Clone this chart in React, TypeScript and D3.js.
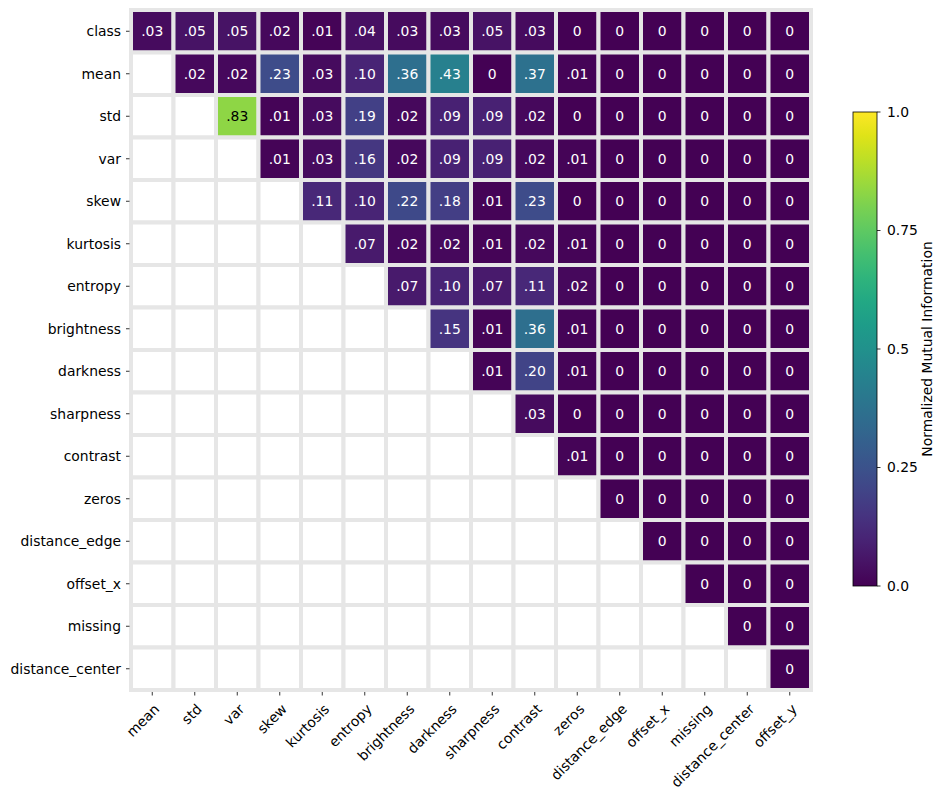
import * as d3 from "d3";

// pairwise normalized mutual information, upper triangle only
const rowLabels = [
  "class", "mean", "std", "var", "skew", "kurtosis", "entropy", "brightness",
  "darkness", "sharpness", "contrast", "zeros", "distance_edge", "offset_x",
  "missing", "distance_center",
];

const colLabels = [
  "mean", "std", "var", "skew", "kurtosis", "entropy", "brightness", "darkness",
  "sharpness", "contrast", "zeros", "distance_edge", "offset_x", "missing",
  "distance_center", "offset_y",
];

// row r holds the scores for columns r..15
const scores: number[][] = [
  [0.03, 0.05, 0.05, 0.02, 0.01, 0.04, 0.03, 0.03, 0.05, 0.03, 0, 0, 0, 0, 0, 0],
  [0.02, 0.02, 0.23, 0.03, 0.10, 0.36, 0.43, 0, 0.37, 0.01, 0, 0, 0, 0, 0],
  [0.83, 0.01, 0.03, 0.19, 0.02, 0.09, 0.09, 0.02, 0, 0, 0, 0, 0, 0],
  [0.01, 0.03, 0.16, 0.02, 0.09, 0.09, 0.02, 0.01, 0, 0, 0, 0, 0],
  [0.11, 0.10, 0.22, 0.18, 0.01, 0.23, 0, 0, 0, 0, 0, 0],
  [0.07, 0.02, 0.02, 0.01, 0.02, 0.01, 0, 0, 0, 0, 0],
  [0.07, 0.10, 0.07, 0.11, 0.02, 0, 0, 0, 0, 0],
  [0.15, 0.01, 0.36, 0.01, 0, 0, 0, 0, 0],
  [0.01, 0.20, 0.01, 0, 0, 0, 0, 0],
  [0.03, 0, 0, 0, 0, 0, 0],
  [0.01, 0, 0, 0, 0, 0],
  [0, 0, 0, 0, 0],
  [0, 0, 0, 0],
  [0, 0, 0],
  [0, 0],
  [0],
];

const colorTicks = [0, 0.25, 0.5, 0.75, 1];

const W = 946;
const H = 797;
const FONT = "DejaVu Sans, sans-serif";
const FS = 13.9;

const fmt = (v: number) => (v === 0 ? "0" : d3.format(".2f")(v).replace(/^0/, ""));

export default function App() {
  const x = d3.scaleBand<string>().domain(colLabels).range([131, 811]);
  const y = d3.scaleBand<string>().domain(rowLabels).range([10, 690]);
  const color = d3.scaleSequential(d3.interpolateViridis).domain([0, 1]);
  const cb = d3.scaleLinear().domain([0, 1]).range([586, 112]);

  const cells: { r: number; c: number; v: number | null }[] = [];
  rowLabels.forEach((_, r) => {
    colLabels.forEach((_, c) => {
      cells.push({ r, c, v: c >= r ? scores[r][c - r] : null });
    });
  });

  const stops = d3.range(0, 1.0001, 0.05);

  return (
    <div style={{ position: "absolute", left: 0, top: 0 }}>
      <svg width={W} height={H} style={{ display: "block" }} fontFamily={FONT}>
        <rect width={W} height={H} fill="#fff" />
        <defs>
          <linearGradient id="cbar" x1="0" y1="1" x2="0" y2="0">
            {stops.map((t) => (
              <stop key={t} offset={t} stopColor={color(t)} />
            ))}
          </linearGradient>
        </defs>

        {/* cells */}
        <g>
          {cells.map(({ r, c, v }) => (
            <rect
              key={`${r}-${c}`}
              x={x(colLabels[c])!}
              y={y(rowLabels[r])!}
              width={x.bandwidth()}
              height={y.bandwidth()}
              fill={v === null ? "#fff" : color(v)}
              stroke="#e6e6e6"
              strokeWidth={4}
            />
          ))}
          {cells
            .filter((d) => d.v !== null)
            .map(({ r, c, v }) => {
              const fill = color(v!);
              const lum = d3.lab(fill).l;
              return (
                <text
                  key={`t-${r}-${c}`}
                  x={x(colLabels[c])! + x.bandwidth() / 2}
                  y={y(rowLabels[r])! + y.bandwidth() / 2}
                  dy="0.35em"
                  textAnchor="middle"
                  fontSize={FS}
                  fill={lum > 60 ? "#000" : "#fff"}
                >
                  {fmt(v!)}
                </text>
              );
            })}
        </g>

        {/* y axis */}
        <g>
          {rowLabels.map((lab) => {
            const cy = y(lab)! + y.bandwidth() / 2;
            return (
              <g key={lab}>
                <line x1={126} x2={129.5} y1={cy} y2={cy} stroke="#000" strokeWidth={0.8} />
                <text x={121} y={cy} dy="0.35em" textAnchor="end" fontSize={FS} fill="#000">
                  {lab}
                </text>
              </g>
            );
          })}
        </g>

        {/* x axis */}
        <g>
          {colLabels.map((lab) => {
            const cx = x(lab)! + x.bandwidth() / 2;
            return (
              <g key={lab}>
                <line x1={cx} x2={cx} y1={692} y2={695.5} stroke="#000" strokeWidth={0.8} />
                <text
                  transform={`translate(${cx + 8},${710}) rotate(-45)`}
                  textAnchor="end"
                  fontSize={FS}
                  fill="#000"
                >
                  {lab}
                </text>
              </g>
            );
          })}
        </g>

        {/* colour bar */}
        <g>
          <rect x={853} y={cb(1)} width={24} height={cb(0) - cb(1)} fill="url(#cbar)" stroke="#000" strokeWidth={0.8} />
          {colorTicks.map((t) => (
            <g key={t}>
              <line x1={877} x2={880.5} y1={cb(t)} y2={cb(t)} stroke="#000" strokeWidth={0.8} />
              <text x={887} y={cb(t)} dy="0.35em" fontSize={FS} fill="#000">
                {t === 0 ? "0.0" : t === 1 ? "1.0" : String(t)}
              </text>
            </g>
          ))}
          <text
            transform={`translate(932,${(cb(0) + cb(1)) / 2}) rotate(-90)`}
            textAnchor="middle"
            fontSize={FS}
            fill="#000"
          >
            Normalized Mutual Information
          </text>
        </g>
      </svg>
    </div>
  );
}
